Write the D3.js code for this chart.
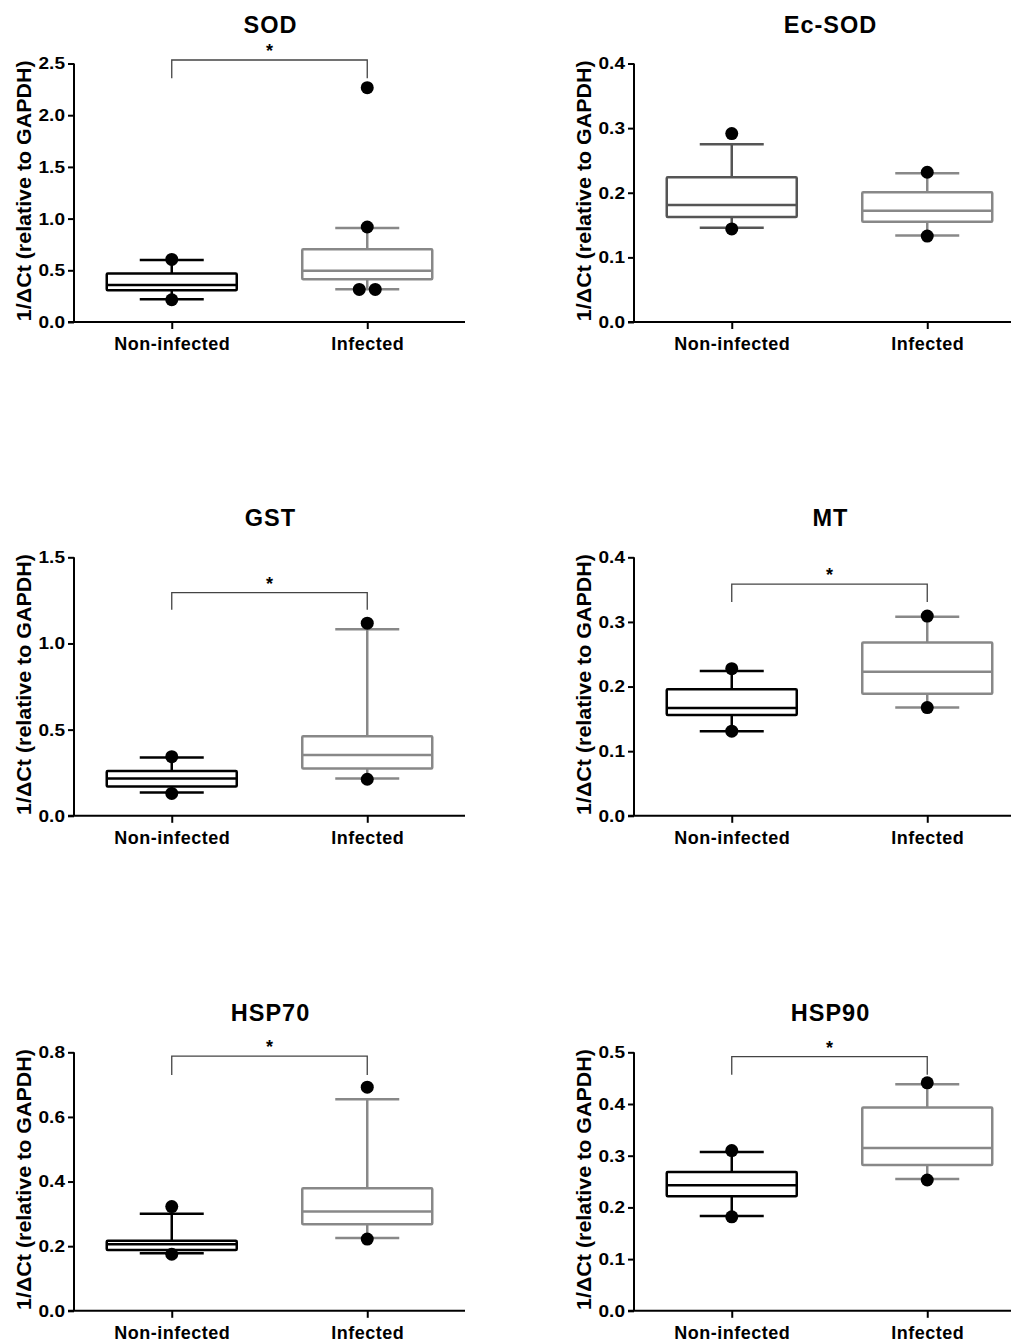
<!DOCTYPE html>
<html>
<head>
<meta charset="utf-8">
<script src="https://cdn.jsdelivr.net/npm/d3@7"></script>
<style>
  body { margin: 0; background: #fff; }
  svg text { font-family: "Liberation Sans", Arial, sans-serif; font-weight: bold; fill: #000; }
</style>
</head>
<body>
<div id="chart"></div>
<script>
// panel names and groups
var genes = ["SOD", "Ec-SOD", "GST", "MT", "HSP70", "HSP90"];
var groups = ["Non-infected", "Infected"];

// y axis top value and tick step per panel
var yMax = [2.5, 0.4, 1.5, 0.4, 0.8, 0.5];
var yStep = [0.5, 0.1, 0.5, 0.1, 0.2, 0.1];

// box stats: [whisker low, q1, median, q3, whisker high]
var nonInfectedBox = [
  [0.22, 0.307, 0.358, 0.47, 0.60],
  [0.146, 0.1625, 0.181, 0.224, 0.275],
  [0.135, 0.17, 0.216, 0.26, 0.338],
  [0.131, 0.156, 0.167, 0.196, 0.224],
  [0.178, 0.188, 0.206, 0.2165, 0.30],
  [0.1836, 0.2217, 0.243, 0.2687, 0.307]
];
var infectedBox = [
  [0.316, 0.413, 0.496, 0.703, 0.909],
  [0.134, 0.155, 0.172, 0.2007, 0.230],
  [0.216, 0.274, 0.353, 0.462, 1.083],
  [0.1675, 0.189, 0.223, 0.268, 0.308],
  [0.225, 0.268, 0.307, 0.3795, 0.655],
  [0.255, 0.282, 0.315, 0.393, 0.438]
];

// points outside the whiskers
var nonInfectedPoints = [
  [0.605, 0.215],
  [0.2915, 0.144],
  [0.343, 0.13],
  [0.2276, 0.131],
  [0.3226, 0.175],
  [0.31, 0.1817]
];
var infectedPoints = [
  [2.266, 0.919, 0.315, 0.315],
  [0.2317, 0.133],
  [1.118, 0.212],
  [0.309, 0.1675],
  [0.692, 0.222],
  [0.441, 0.253]
];

// significance bracket: [top, leg bottom], null if none
var bracket = [
  [2.534, 2.357],
  null,
  [1.295, 1.195],
  [0.3585, 0.331],
  [0.788, 0.73],
  [0.4916, 0.4567]
];

var svgWidth = 1011, svgHeight = 1343;
var colX = [74, 634];
var rowY = [63.5, 557.3, 1052.3];
var width = 391, height = 258.5;

var svg = d3.select("#chart").append("svg")
  .attr("width", svgWidth)
  .attr("height", svgHeight);

genes.forEach(function(gene, i) {
  var left = colX[i % 2];
  var top = rowY[Math.floor(i / 2)];

  var g = svg.append("g")
    .attr("transform", `translate(${left}, ${top})`);

  var yScale = d3.scaleLinear()
    .domain([0, yMax[i]])
    .range([height, 0]);

  var xScale = d3.scalePoint()
    .domain(groups)
    .range([0, width])
    .padding(0.5);

  var ticks = d3.range(0, yMax[i] + yStep[i] / 2, yStep[i]);

  // y axis
  var yAxis = d3.axisLeft(yScale)
    .tickValues(ticks)
    .tickFormat(d3.format(".1f"))
    .tickSize(6)
    .tickPadding(3);
  var yg = g.append("g").call(yAxis);
  yg.select(".domain").remove();
  yg.selectAll(".tick line").attr("stroke", "#000").attr("stroke-width", 2);
  // the original font is drawn a bit wider than it is tall
  yg.selectAll(".tick text")
    .attr("x", 0)
    .attr("transform", "translate(-9,0) scale(1.12,1)")
    .attr("font-size", 17)
    .attr("fill", "#000");

  // x axis
  var xAxis = d3.axisBottom(xScale)
    .tickSize(7)
    .tickPadding(8);
  var xg = g.append("g")
    .attr("transform", `translate(0, ${height})`)
    .call(xAxis);
  xg.select(".domain").remove();
  xg.selectAll(".tick line").attr("stroke", "#000").attr("stroke-width", 2);
  xg.selectAll(".tick text")
    .attr("font-size", 18)
    .attr("letter-spacing", 0.5)
    .attr("fill", "#000");

  g.append("line")
    .attr("x1", 0).attr("x2", 0)
    .attr("y1", 0).attr("y2", height)
    .attr("stroke", "#000").attr("stroke-width", 2);
  g.append("line")
    .attr("x1", -6).attr("x2", width)
    .attr("y1", height).attr("y2", height)
    .attr("stroke", "#000").attr("stroke-width", 2);

  // y label
  g.append("text")
    .attr("transform", `translate(-43, ${height / 2 - 2}) rotate(-90) scale(1.1,1)`)
    .attr("text-anchor", "middle")
    .attr("font-size", 19.5)
    .text("1/\u0394Ct (relative to GAPDH)");

  // title
  g.append("text")
    .attr("x", width / 2 + 1)
    .attr("y", -31)
    .attr("text-anchor", "middle")
    .attr("font-size", 23.5)
    .attr("letter-spacing", 1)
    .text(gene);

  var boxes = [nonInfectedBox[i], infectedBox[i]];
  var points = [nonInfectedPoints[i], infectedPoints[i]];
  var colors = [i === 1 ? "#555" : "#000", "#888"];

  groups.forEach(function(grp, j) {
    var cx = xScale(grp);
    var b = boxes[j];
    var col = colors[j];
    var bg = g.append("g")
      .attr("stroke", col)
      .attr("stroke-width", 2.5)
      .attr("fill", "none");

    // whiskers
    bg.append("line")
      .attr("x1", cx).attr("x2", cx)
      .attr("y1", yScale(b[3])).attr("y2", yScale(b[4]));
    bg.append("line")
      .attr("x1", cx).attr("x2", cx)
      .attr("y1", yScale(b[1])).attr("y2", yScale(b[0]));
    bg.append("line")
      .attr("x1", cx - 32).attr("x2", cx + 32)
      .attr("y1", yScale(b[4])).attr("y2", yScale(b[4]));
    bg.append("line")
      .attr("x1", cx - 32).attr("x2", cx + 32)
      .attr("y1", yScale(b[0])).attr("y2", yScale(b[0]));

    // box
    bg.append("rect")
      .attr("x", cx - 65)
      .attr("width", 130)
      .attr("y", yScale(b[3]))
      .attr("height", yScale(b[1]) - yScale(b[3]))
      .attr("fill", "#fff")
      .attr("rx", 1);
    bg.append("line")
      .attr("x1", cx - 65).attr("x2", cx + 65)
      .attr("y1", yScale(b[2])).attr("y2", yScale(b[2]));

    // points, tied values side by side
    var pts = points[j];
    g.selectAll(null)
      .data(pts)
      .enter()
      .append("circle")
      .attr("cx", function(d, k) {
        var same = pts.filter(v => v === d);
        if (same.length < 2) return cx;
        var idx = pts.slice(0, k).filter(v => v === d).length;
        return cx + (idx - (same.length - 1) / 2) * 16;
      })
      .attr("cy", d => yScale(d))
      .attr("r", 6.5)
      .attr("fill", "#000");
  });

  // significance bracket
  if (bracket[i]) {
    var x1 = xScale(groups[0]), x2 = xScale(groups[1]);
    var yt = yScale(bracket[i][0]), yb = yScale(bracket[i][1]);
    g.append("path")
      .attr("d", `M${x1},${yb}V${yt}H${x2}V${yb}`)
      .attr("fill", "none")
      .attr("stroke", "#444")
      .attr("stroke-width", 1.3);
    g.append("text")
      .attr("x", (x1 + x2) / 2)
      .attr("y", yt - 3)
      .attr("text-anchor", "middle")
      .attr("font-size", 18)
      .attr("font-weight", "normal")
      .text("*");
  }
});
</script>
</body>
</html>
